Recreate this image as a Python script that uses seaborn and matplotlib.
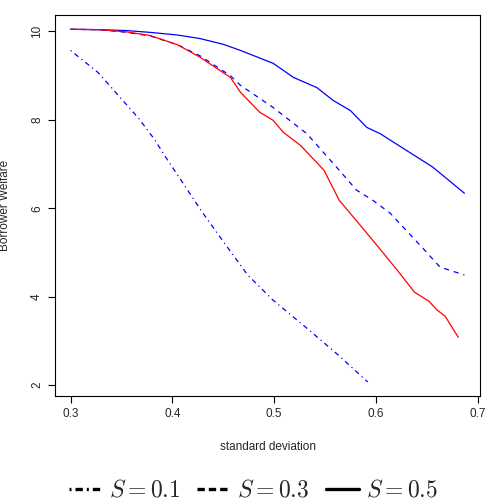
import numpy as np
import pandas as pd
import matplotlib
matplotlib.use("Agg")
import matplotlib.pyplot as plt
from matplotlib.lines import Line2D
import seaborn as sns

# values
sd_01 = [0.300, 0.327, 0.347, 0.367, 0.383, 0.391, 0.430, 0.449, 0.474, 0.499, 0.532, 0.563, 0.592]
welfare_01 = [9.57, 9.07, 8.55, 8.03, 7.54, 7.24, 5.89, 5.28, 4.49, 3.92, 3.29, 2.68, 2.07]

sd_03 = [0.300, 0.329, 0.355, 0.378, 0.405, 0.427, 0.457, 0.467, 0.499, 0.532, 0.564, 0.581, 0.597, 0.614, 0.646, 0.663, 0.687]
welfare_03 = [10.05, 10.04, 9.98, 9.90, 9.70, 9.45, 9.00, 8.78, 8.28, 7.69, 6.86, 6.41, 6.18, 5.89, 5.10, 4.67, 4.49]

sd_05 = [0.300, 0.329, 0.355, 0.378, 0.405, 0.427, 0.450, 0.467, 0.499, 0.519, 0.532, 0.542, 0.558, 0.575, 0.591, 0.604, 0.630, 0.656, 0.687]
welfare_05 = [10.05, 10.04, 10.02, 9.98, 9.92, 9.84, 9.71, 9.57, 9.28, 8.96, 8.83, 8.73, 8.44, 8.21, 7.83, 7.69, 7.31, 6.93, 6.34]

sd_red = [0.300, 0.329, 0.355, 0.378, 0.405, 0.427, 0.457, 0.467, 0.486, 0.499, 0.509, 0.526, 0.549, 0.564, 0.587, 0.605, 0.621, 0.638, 0.652, 0.660, 0.668, 0.675, 0.681]
welfare_red = [10.05, 10.04, 9.99, 9.91, 9.70, 9.42, 8.96, 8.62, 8.17, 7.99, 7.72, 7.42, 6.86, 6.18, 5.55, 5.05, 4.60, 4.10, 3.90, 3.70, 3.56, 3.30, 3.08]

legend_labels = ["$S = 0.1$", "$S = 0.3$", "$S = 0.5$"]

sns.set_style("ticks")
plt.rcParams["font.family"] = ["Liberation Sans", "DejaVu Sans"]
plt.rcParams["mathtext.fontset"] = "cm"

fig = plt.figure(figsize=(4.9, 5.04), dpi=100)
ax = fig.add_axes([0.112, 0.214, 0.868, 0.756])

dotdash = (0, (1, 3, 4, 3))
dashed = (0, (4, 4))
series = [
    (sd_01, welfare_01, "#0000FF", dotdash),
    (sd_03, welfare_03, "#0000FF", dashed),
    (sd_05, welfare_05, "#0000FF", "-"),
    (sd_red, welfare_red, "#FF0000", "-"),
]
for xs, ys, col, ls in series:
    df = pd.DataFrame({"sd": xs, "welfare": ys})
    sns.lineplot(data=df, x="sd", y="welfare", ax=ax, color=col,
                 linestyle=ls, linewidth=0.9, estimator=None, sort=False)

ax.set_xlim(0.2845, 0.7025)
ax.set_ylim(1.75, 10.37)
ax.set_xticks([0.3, 0.4, 0.5, 0.6, 0.7])
ax.set_xticklabels(["0.3", "0.4", "0.5", "0.6", "0.7"])
ax.set_yticks([2, 4, 6, 8, 10])
ax.tick_params(axis="both", labelsize=8.5, length=5, width=0.8, color="black")
plt.setp(ax.get_yticklabels(), rotation=90, va="center")
ax.set_xlabel("standard deviation", fontsize=8.5, labelpad=15)
ax.set_ylabel("Borrower Welfare", fontsize=8.5)
ax.yaxis.set_label_coords(-0.103, 0.5)
for s in ax.spines.values():
    s.set_visible(True)
    s.set_color("black")
    s.set_linewidth(0.8)

handles = [
    Line2D([], [], color="black", lw=2.4, linestyle=(0, (0.6, 1.2, 2.2, 1.2))),
    Line2D([], [], color="black", lw=2.4, linestyle=(0, (2.2, 1.2))),
    Line2D([], [], color="black", lw=2.4, linestyle="-"),
]
fig.legend(handles, legend_labels, loc="center", bbox_to_anchor=(0.517, 0.026),
           ncol=3, frameon=False, fontsize=17, handlelength=1.4,
           handletextpad=0.3, columnspacing=0.7)

fig.savefig("out.png", dpi=100)
